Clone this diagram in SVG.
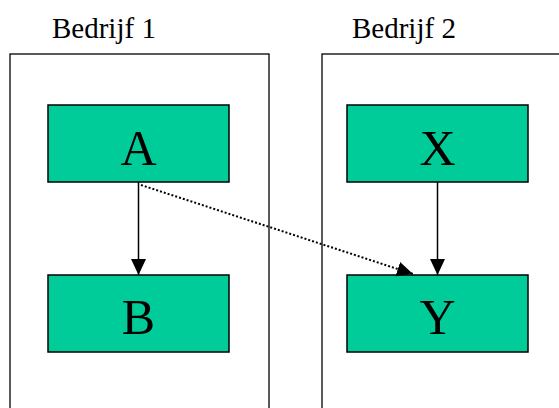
<svg xmlns="http://www.w3.org/2000/svg" width="559" height="408" viewBox="0 0 559 408">
<style>
.org{fill:#fff;stroke:#000;stroke-width:1.3}
.node{fill:#00CC99;stroke:#000;stroke-width:1.5}
.lbl{font-family:"Liberation Serif","Times New Roman",serif;fill:#000}
.big{font-size:50px;text-anchor:middle}
.title{font-size:29px}
.solid{stroke:#000;stroke-width:1.5;fill:none}
.dot{stroke:#000;stroke-width:2;fill:none;stroke-dasharray:2 2}
</style>
<defs>
<marker id="ah2" viewBox="0 0 16 16" markerWidth="16" markerHeight="16" refX="16" refY="8" orient="auto" markerUnits="userSpaceOnUse">
<path d="M0,0.5 L16,8 L0,15.5 Z" fill="#000"/>
</marker>
</defs>
<g id="bedrijf1">
<rect class="org" x="10" y="54" width="259" height="370"/>
<text class="lbl title" x="52" y="38">Bedrijf 1</text>
</g>
<g id="bedrijf2">
<rect class="org" x="322" y="54" width="260" height="370"/>
<text class="lbl title" x="352" y="38">Bedrijf 2</text>
</g>
<g id="nodeA">
<rect class="node" x="48" y="105" width="181" height="77"/>
<text class="lbl big" x="138.5" y="165">A</text>
</g>
<g id="nodeB">
<rect class="node" x="48" y="275" width="181" height="77"/>
<text class="lbl big" x="138.5" y="334">B</text>
</g>
<g id="nodeX">
<rect class="node" x="347" y="105" width="181" height="77"/>
<text class="lbl big" x="437.5" y="165">X</text>
</g>
<g id="nodeY">
<rect class="node" x="347" y="275" width="181" height="77"/>
<text class="lbl big" x="437.5" y="334">Y</text>
</g>
<g id="connectors">
<line class="solid" x1="138.5" y1="182" x2="138.5" y2="275" marker-end="url(#ah2)"/>
<line class="solid" x1="437.5" y1="182" x2="437.5" y2="275" marker-end="url(#ah2)"/>
<line class="dot" x1="141" y1="185" x2="413" y2="274" marker-end="url(#ah2)"/>
</g>
</svg>
